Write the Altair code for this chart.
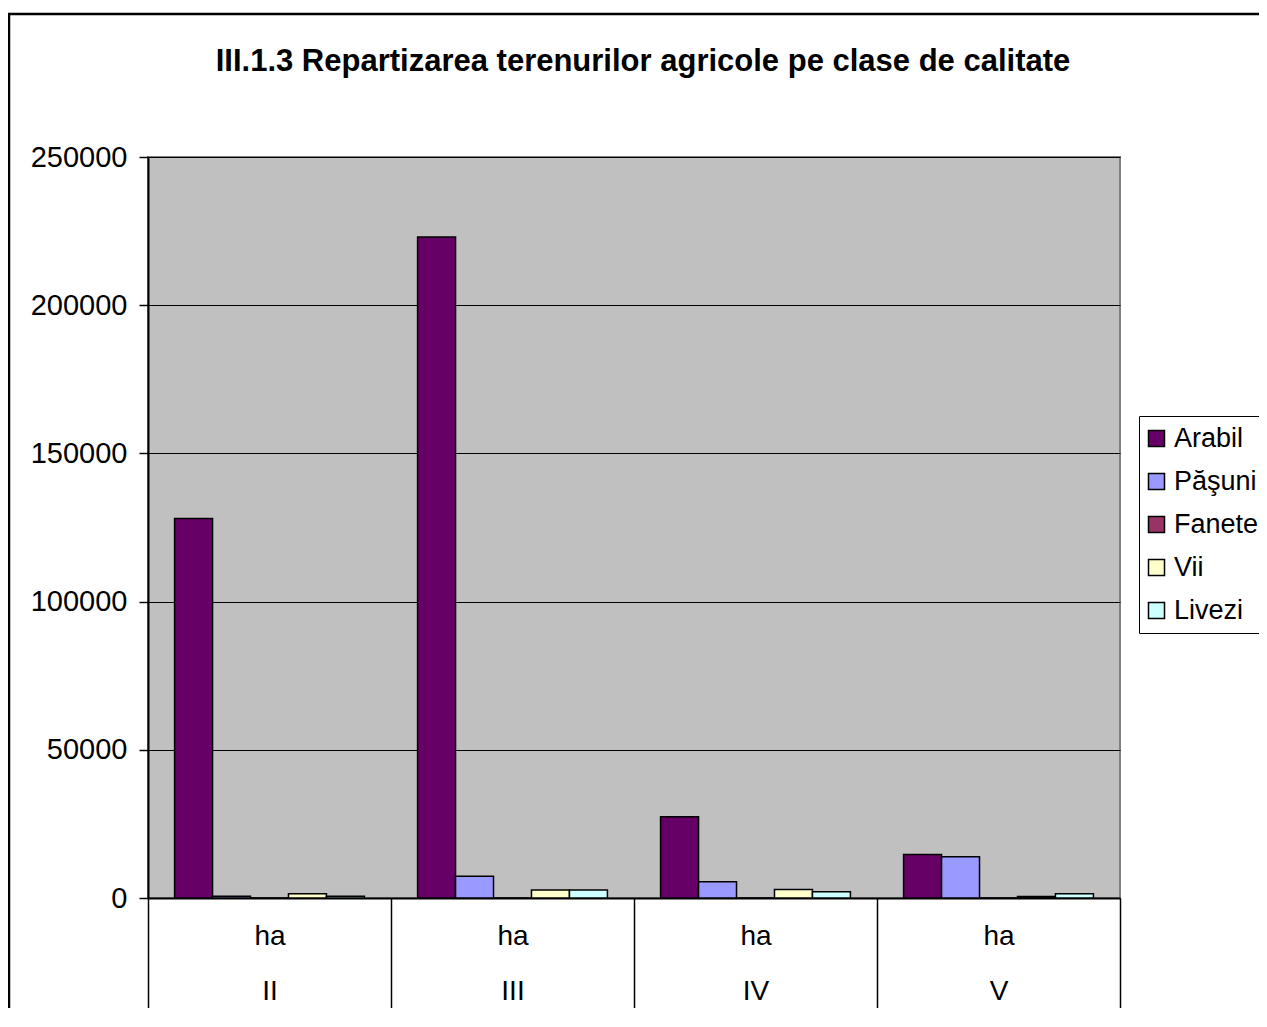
import altair as alt
import pandas as pd

classes = ["II", "III", "IV", "V"]
series = ["Arabil", "Păşuni", "Fanete", "Vii", "Livezi"]
colors = ["#660066", "#9999FF", "#993366", "#FFFFCC", "#CCFFFF"]

arabil = [128000, 223000, 27400, 14700]
pasuni = [600, 7300, 5500, 13900]
fanete = [0, 0, 0, 0]
vii = [1400, 2700, 2900, 500]
livezi = [600, 2700, 2100, 1400]

y_ticks = [0, 50000, 100000, 150000, 200000, 250000]
title = "III.1.3 Repartizarea terenurilor agricole pe clase de calitate"

rows = []
for s, vals in zip(series, [arabil, pasuni, fanete, vii, livezi]):
    for c, v in zip(classes, vals):
        rows.append({"clasa": c, "teren": s, "ha": v})
df = pd.DataFrame(rows)

FONT = "Liberation Sans"

bars = alt.Chart(df).mark_bar(stroke="black", strokeWidth=1.5).encode(
    x=alt.X(
        "clasa:N",
        sort=classes,
        title=None,
        scale=alt.Scale(paddingInner=0, paddingOuter=0),
        axis=alt.Axis(
            labelExpr="indexof(['II','III','IV','V'], datum.value) >= 0 ? ['ha', datum.value] : ''",
            labelAngle=0,
            labelFontSize=28,
            labelFont=FONT,
            labelColor="black",
            labelLineHeight=55,
            labelBaseline="alphabetic",
            labelPadding=-64,
            tickBand="extent",
            tickSize=110,
            tickColor="black",
            tickWidth=1.5,
            domainColor="black",
            domainWidth=2,
            grid=False,
        ),
    ),
    xOffset=alt.XOffset(
        "teren:N",
        sort=series,
        scale=alt.Scale(paddingInner=0, paddingOuter=0.7),
    ),
    y=alt.Y(
        "ha:Q",
        title=None,
        scale=alt.Scale(domain=[0, 250000], nice=False),
        axis=alt.Axis(
            values=y_ticks,
            format="d",
            labelFontSize=29,
            labelFont=FONT,
            labelColor="black",
            labelPadding=12,
            tickSize=9,
            tickColor="black",
            tickWidth=1.5,
            domainColor="black",
            domainWidth=2,
            gridColor="black",
            gridWidth=1.2,
            gridOpacity=1,
        ),
    ),
    color=alt.Color(
        "teren:N",
        sort=series,
        scale=alt.Scale(domain=series, range=colors),
        legend=alt.Legend(
            title=None,
            orient="none",
            legendX=991,
            legendY=259,
            symbolType="square",
            symbolSize=256,
            symbolStrokeColor="black",
            symbolStrokeWidth=1.5,
            symbolOffset=-5,
            labelFontSize=27,
            labelFont=FONT,
            labelColor="black",
            labelOffset=4,
            rowPadding=15,
            padding=9,
            strokeColor="black",
            fillColor="white",
        ),
    ),
)

frame = alt.Chart(pd.DataFrame({"a": [0]})).mark_rect(
    fill="white", fillOpacity=0, stroke="black", strokeWidth=2.5, clip=False
).encode(
    x=alt.value(-139), x2=alt.value(1300), y=alt.value(-143), y2=alt.value(1100)
)

chart = alt.layer(bars, frame).properties(
    width=972,
    height=741,
    title=alt.TitleParams(
        title,
        font=FONT,
        fontSize=31,
        fontWeight="bold",
        color="black",
        anchor="middle",
        frame="group",
        offset=-65,
        dx=9,
    ),
    autosize=alt.AutoSizeParams(type="none"),
    padding={"left": 140, "top": 149, "right": 139, "bottom": 110},
    background="white",
).configure_view(
    fill="#C0C0C0", stroke="#808080", strokeWidth=2
)

chart.save("out.html", embed_options={"renderer": "svg", "actions": False})
